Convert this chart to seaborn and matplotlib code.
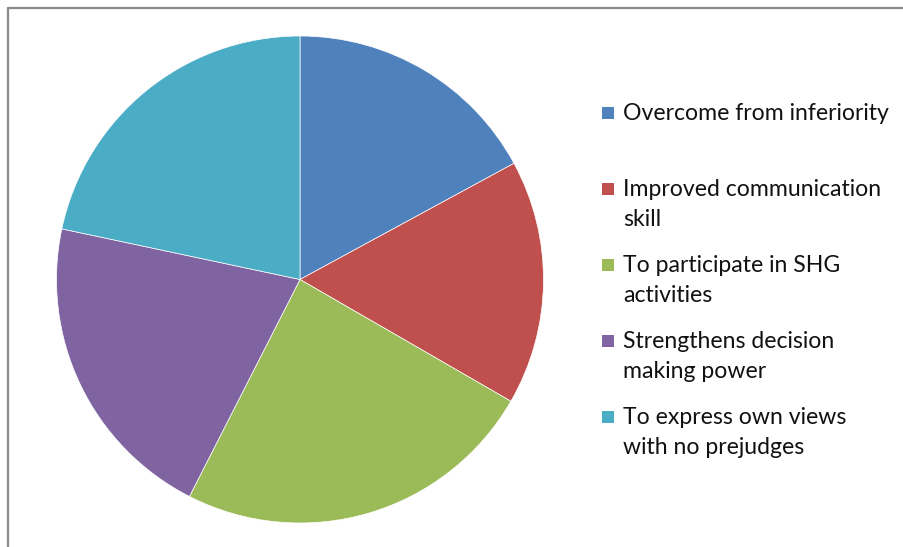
import matplotlib
matplotlib.use("Agg")
import matplotlib.pyplot as plt
import seaborn as sns
from matplotlib.patches import Rectangle
from matplotlib.lines import Line2D

# Respondent counts per perceived benefit
categories = [
    "Overcome from inferiority",
    "Improved communication skill",
    "To participate in SHG activities",
    "Strengthens decision making power",
    "To express own views with no prejudges",
]
counts = [41, 39, 58, 50, 52]

# Legend text, wrapped as shown next to the pie
legend_lines = [
    ["Overcome from inferiority"],
    ["Improved communication", "skill"],
    ["To participate in SHG", "activities"],
    ["Strengthens decision", "making power"],
    ["To express own views", "with no prejudges"],
]
slice_colors = ["#4F81BD", "#C0504D", "#9BBB59", "#8064A2", "#4BACC6"]

sns.set_theme(style="white")
plt.rcParams["font.family"] = ["Lato", "DejaVu Sans"]
palette = sns.color_palette(slice_colors)

W, H = 904, 547
fig = plt.figure(figsize=(W / 100, H / 100), dpi=100)
fig.patch.set_facecolor("white")

# Pie axes: centre at (300, 279.5) px, radius 243.5 px
cx, cy, r = 300.0, 279.5, 243.5
ax = fig.add_axes([(cx - r) / W, (H - cy - r) / H, 2 * r / W, 2 * r / H])
ax.pie(
    counts,
    colors=palette,
    startangle=90,
    counterclock=False,
    wedgeprops=dict(edgecolor="white", linewidth=0.5),
)
ax.set_xlim(-1, 1)
ax.set_ylim(-1, 1)
ax.set_aspect("equal")
ax.axis("off")

# Chart frame (top and left edges visible)
frame_kw = dict(color="#8a8a8a", linewidth=1.6, transform=None)
fig.add_artist(Line2D([8, W + 5], [H - 8, H - 8], **frame_kw))
fig.add_artist(Line2D([8, 8], [H - 8, -5], **frame_kw))

# Legend drawn beside the pie
first_baselines = [120, 196, 272, 348, 424]
line_gap = 29.5
text_x = 623
for color, lines, base in zip(palette, legend_lines, first_baselines):
    fig.add_artist(
        Rectangle((602, H - base + 1), 12, 12, facecolor=color,
                  edgecolor="none", transform=None)
    )
    for i, line in enumerate(lines):
        fig.text(text_x / W, (H - base - i * line_gap) / H, line,
                 fontsize=16.6, color="#111111", va="baseline", ha="left")

fig.savefig("out.png", dpi=100, facecolor="white")
